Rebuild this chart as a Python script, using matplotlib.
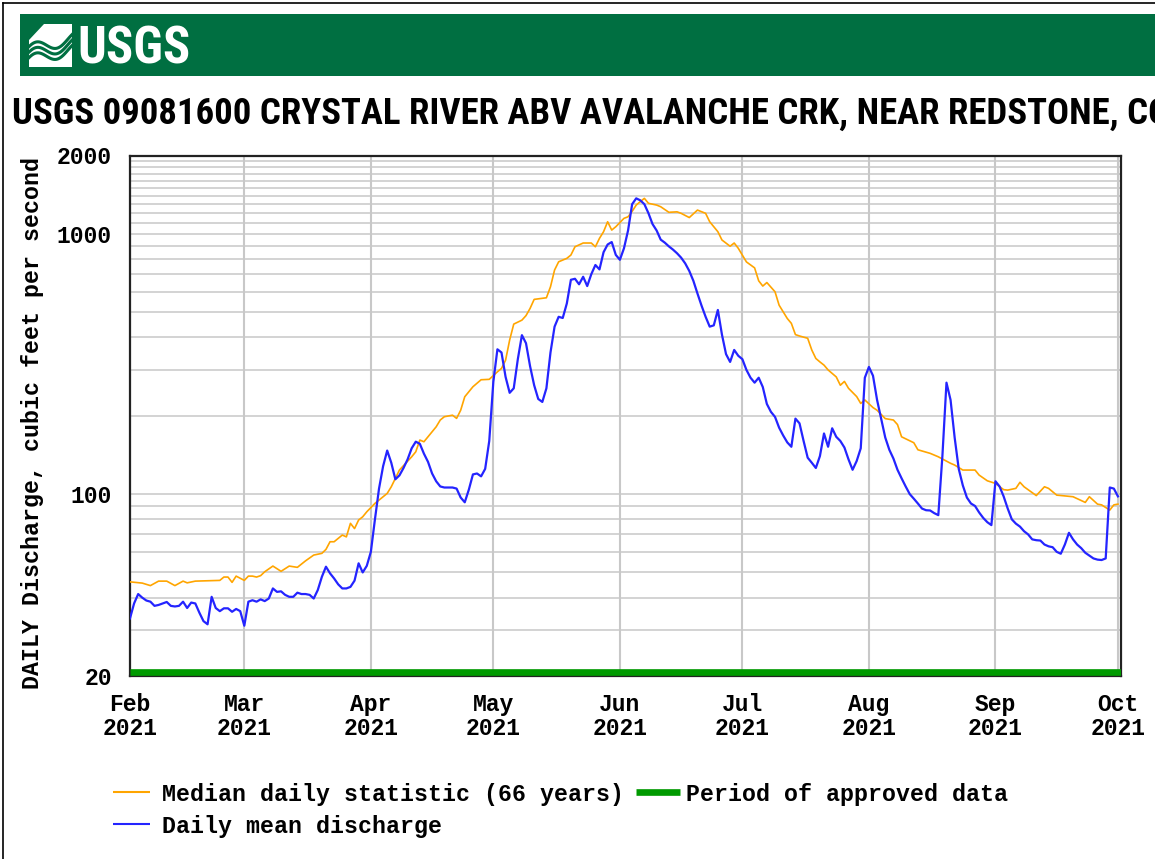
import matplotlib
matplotlib.use('Agg')
import matplotlib.pyplot as plt
import matplotlib.dates as mdates
from matplotlib.ticker import FixedLocator, NullFormatter, FixedFormatter
from matplotlib.lines import Line2D
from matplotlib.patches import Rectangle
from matplotlib import font_manager
import numpy as np
import pandas as pd

# ---------------- data ----------------
start_date = '2021-02-01'

# Daily mean discharge (cfs), one value per day from 2021-02-01
mean_cfs = [
    33.3, 38, 41.3, 40, 39, 38.6, 37.2, 37.5, 38, 38.5,
    37.2, 37, 37.2, 38.6, 36.5, 38.3, 38, 35, 32.5, 31.6,
    40.3, 36.5, 35.5, 36.4, 36.4, 35.3, 36.2, 35.5, 31.2, 38.6,
    39.1, 38.6, 39.4, 38.8, 39.7, 43.4, 42.1, 42.3, 41, 40.3,
    40.3, 41.8, 41.3, 41.3, 41, 39.7, 42.8, 48.1, 52.6, 49.6,
    47.4, 45, 43.4, 43.4, 44, 46.5, 54.2, 50, 53, 60,
    80, 105, 128, 147, 132, 114, 118, 126, 136, 150,
    159, 156, 143, 133, 120, 112, 107, 106, 106, 106,
    105, 97, 93, 104, 119, 120, 117, 125, 160, 270,
    360, 350, 282, 245, 255, 330, 408, 380, 310, 262,
    232, 226, 255, 350, 440, 480, 475, 540, 666, 672,
    640, 684, 630, 700, 759, 730, 850, 910, 930, 830,
    795, 880, 1030, 1300, 1369, 1345, 1300, 1200, 1090, 1030,
    950, 925, 895, 870, 842, 810, 770, 720, 660, 590,
    530, 480, 440, 445, 510, 410, 345, 322, 358, 340,
    330, 300, 280, 268, 280, 258, 222, 207, 198, 180,
    168, 158, 152, 195, 187, 160, 138, 132, 126, 140,
    171, 152, 179, 166, 160, 151, 136, 124, 134, 150,
    280, 308, 285, 230, 195, 165, 148, 137, 124, 115,
    107, 100, 96, 92, 88, 86.7, 86.5, 84.5, 83, 140,
    268, 230, 165, 125, 108, 97, 92, 90, 85, 81,
    78, 76, 112, 107, 98, 88, 80, 77, 75, 72,
    70, 67, 66.5, 66.3, 64, 63, 62.5, 60, 59, 64,
    71, 67, 64, 62, 59.5, 58, 56.6, 56, 55.8, 56.6,
    106, 105, 98,
]

# Median daily statistic (66 years): day offset from 2021-02-01 and cfs
median_day = [
    0, 3, 5, 7, 9, 11, 13, 14, 16, 22, 23, 24, 25, 26, 28, 29, 30, 31, 32, 33,
    35, 37, 39, 41, 43, 45, 47, 48, 49, 50, 52, 53, 54, 55, 56, 57, 58, 60, 62, 63,
    64, 65, 66, 69, 70, 71, 72, 75, 76, 77, 79, 80, 81, 82, 84, 86, 88, 90, 91, 92,
    93, 94, 96, 97, 98, 99, 102, 103, 104, 105, 107, 108, 109, 111, 113, 114, 115, 116, 117, 118,
    119, 121, 122, 123, 124, 125, 126, 127, 129, 130, 132, 134, 135, 137, 139, 141, 142, 144, 145, 147,
    148, 149, 151, 153, 154, 155, 156, 158, 159, 160, 161, 162, 163, 164, 166, 167, 168, 169, 170, 171,
    172, 173, 174, 175, 176, 178, 179, 180, 182, 183, 185, 187, 188, 189, 192, 193, 196, 198, 201, 202,
    204, 207, 208, 210, 212, 214, 215, 217, 218, 219, 222, 224, 225, 227, 231, 234, 235, 237, 238, 240,
    241, 242,
]
median_cfs = [
    46, 45.5, 44.5, 46.3, 46.3, 44.5, 46.3, 45.6, 46.3, 46.6, 48, 48, 45.8, 48.4, 46.6, 48.4, 48.4, 48, 48.6, 50.3,
    52.9, 50.5, 52.9, 52.3, 55.4, 58.3, 59.2, 61.3, 65.6, 65.6, 69.6, 68.5, 77.2, 73.7, 79.5, 81.8, 85.5, 92.1, 97.7, 100.6,
    106.7, 114.9, 123.7, 139.1, 145.4, 161.3, 158.9, 181.4, 192.6, 198.3, 201, 195.4, 210, 236.6, 258.5, 275, 276, 295, 304, 327,
    391, 450, 466, 485, 517, 560, 568, 626, 726, 781, 805, 829, 892, 922, 922, 892, 961, 1019, 1113, 1034,
    1065, 1147, 1163, 1220, 1290, 1330, 1369, 1310, 1290, 1271, 1210, 1215, 1199, 1155, 1234, 1199, 1113, 1019, 947, 896,
    922, 880, 780, 740, 660, 630, 650, 599, 532, 502, 473, 453, 410, 405, 397, 358, 332, 322, 313, 300,
    291, 282, 262, 271, 255, 237, 223, 230, 215, 210, 195, 192.6, 185, 166, 157.5, 148, 143.4, 139.1, 131.3, 129.3,
    123.7, 123.7, 118.3, 112.5, 109.9, 104, 103.6, 105.2, 111, 106.7, 98.7, 106.7, 105.2, 99.1, 97.7, 92.9, 97.7, 91.5, 90.9, 86.8,
    90.9, 91.5,
]

approved_start = '2021-02-01'
approved_end = '2021-10-02'

month_ticks = pd.date_range('2021-02-01', '2021-10-01', freq='MS')
y_major = [20, 100, 1000, 2000]
y_major_labels = ['20', '100', '1000', '2000']

title_text = 'USGS 09081600 CRYSTAL RIVER ABV AVALANCHE CRK, NEAR REDSTONE, CO'
ylabel_text = 'DAILY Discharge, cubic feet per second'
lbl_median = 'Median daily statistic (66 years)'
lbl_mean = 'Daily mean discharge'
lbl_approved = 'Period of approved data'
logo_text = 'USGS'

# ---------------- style ----------------
W, H = 1155, 859
C_MED = '#FFA500'
C_MEAN = '#2424FF'
C_APPR = '#009A00'
C_BANNER = '#006F41'
C_GRID = '#C8C8C8'

mono = ['Liberation Mono', 'DejaVu Sans Mono']
FS_TICK = 16.6
FS_TEXT = 16.75

# pick a condensed sans for the header texts if one is installed
ttf = font_manager.fontManager.ttflist
names = {f.name for f in ttf}
narrow_family, narrow_stretch = None, 'normal'
for cand in ['Liberation Sans Narrow', 'Arial Narrow', 'Roboto Condensed', 'Open Sans Condensed',
             'Nimbus Sans Narrow', 'Noto Sans Condensed', 'DejaVu Sans Condensed']:
    if cand in names:
        narrow_family = cand
        break
if narrow_family is None:
    for f in ttf:
        if f.name in ('DejaVu Sans', 'Noto Sans', 'Open Sans', 'Roboto') and str(f.stretch) in ('condensed', 'semi-condensed', '87.5', '75'):
            narrow_family, narrow_stretch = f.name, 'condensed'
            break
if narrow_family is None:
    narrow_family = 'Liberation Sans'
head_fam = [narrow_family, 'DejaVu Sans']


def fx(px):
    return px / W


def fy(py):
    return 1 - py / H


fig = plt.figure(figsize=(W / 100, H / 100), dpi=100)
fig.patch.set_facecolor('white')
renderer = fig.canvas.get_renderer()


def fit_size(text, target_px, weight='bold'):
    t = fig.text(0, 0, text, fontsize=30, fontweight=weight, family=head_fam, fontstretch=narrow_stretch)
    w = t.get_window_extent(renderer).width
    t.remove()
    return 30 * target_px / w


# outer border (left and top)
fig.add_artist(Line2D([fx(3), fx(3)], [0, fy(3)], transform=fig.transFigure, color='black', lw=1.2))
fig.add_artist(Line2D([fx(3), 1], [fy(3), fy(3)], transform=fig.transFigure, color='black', lw=1.2))

# banner
fig.add_artist(Rectangle((fx(20), fy(76)), 1 - fx(20), fy(13.5) - fy(76), transform=fig.transFigure,
                         facecolor=C_BANNER, edgecolor='none'))
# logo icon: white square with green waves
fig.add_artist(Rectangle((fx(29), fy(67)), fx(72) - fx(29), fy(24) - fy(67), transform=fig.transFigure,
                         facecolor='white', edgecolor='none'))
tt = np.linspace(0, 1, 60)
for off in [0, 5.5, 11]:
    xs = 29 + 43 * tt
    ys = 50 + off - 12 * tt - 6 * np.sin(2 * np.pi * tt + 0.6)
    fig.add_artist(Line2D(fx(xs), fy(ys), transform=fig.transFigure, color=C_BANNER, lw=2.2))
fig.add_artist(plt.Polygon([[fx(29), fy(24)], [fx(44), fy(24)], [fx(29), fy(40)]], closed=True,
                           transform=fig.transFigure, facecolor=C_BANNER, edgecolor='none'))
logo_size = min(fit_size(logo_text, 113), 40)
fig.text(fx(77), fy(64), logo_text, color='white', fontsize=logo_size, fontweight='bold',
         family=head_fam, fontstretch=narrow_stretch, ha='left', va='baseline')

# title (cut at the right edge, as in the source image)
title_size = min(fit_size(title_text.split(', CO')[0], 1097), 27)
fig.text(fx(12), fy(123.5), title_text, fontsize=title_size, fontweight='bold', family=head_fam,
         fontstretch=narrow_stretch, ha='left', va='baseline', color='black')

# ---------------- axes ----------------
ax = fig.add_axes([fx(130), fy(676), fx(1121) - fx(130), fy(155.5) - fy(676)])
ax.set_facecolor('white')

mean_dates = pd.date_range(start_date, periods=len(mean_cfs), freq='D')
median_dates = pd.Timestamp(start_date) + pd.to_timedelta(median_day, unit='D')

ax.plot(median_dates, median_cfs, color=C_MED, lw=1.2, zorder=3)
ax.plot(mean_dates, mean_cfs, color=C_MEAN, lw=1.6, zorder=4)
ax.plot([pd.Timestamp(approved_start), pd.Timestamp(approved_end)], [0.0085, 0.0085],
        transform=ax.get_xaxis_transform(), color=C_APPR, lw=4.8, solid_capstyle='butt', zorder=5)

ax.set_yscale('log')
ax.set_ylim(20, 2000)
ax.set_xlim(pd.Timestamp('2021-02-01'), pd.Timestamp('2021-10-01') + pd.Timedelta(hours=18))

minor_vals = list(range(30, 100, 10)) + list(range(200, 1000, 100)) + list(range(1100, 2000, 100))
ax.yaxis.set_major_locator(FixedLocator(y_major))
ax.yaxis.set_major_formatter(FixedFormatter(y_major_labels))
ax.yaxis.set_minor_locator(FixedLocator(minor_vals))
ax.yaxis.set_minor_formatter(NullFormatter())

ax.set_xticks(mdates.date2num(month_ticks))
ax.set_xticklabels([f'{d:%b}\n{d:%Y}' for d in month_ticks], linespacing=1.1)

ax.grid(which='both', axis='y', color=C_GRID, lw=1.1, zorder=0)
ax.grid(which='major', axis='x', color=C_GRID, lw=1.5, zorder=0)
ax.set_axisbelow(True)

ax.tick_params(which='both', length=0)
ax.tick_params(axis='y', pad=13)
ax.tick_params(axis='x', pad=12)
for lbl in ax.get_xticklabels() + ax.get_yticklabels():
    lbl.set_family(mono)
    lbl.set_fontweight('bold')
    lbl.set_fontsize(FS_TICK)

for s in ax.spines.values():
    s.set_linewidth(1.6)
    s.set_color('#222222')

fig.text(fx(33), fy(423), ylabel_text, rotation=90, ha='center', va='center',
         family=mono, fontweight='bold', fontsize=FS_TEXT)


# ---------------- legend (manual) ----------------
def legend_item(x0, x1, y, color, lw, label, tx):
    fig.add_artist(Line2D([fx(x0), fx(x1)], [fy(y), fy(y)], transform=fig.transFigure,
                          color=color, lw=lw, solid_capstyle='butt'))
    fig.text(fx(tx), fy(y), label, ha='left', va='center_baseline', family=mono,
             fontweight='bold', fontsize=FS_TEXT)


legend_item(113, 150, 792, C_MED, 1.5, lbl_median, 162)
legend_item(636, 680, 792, C_APPR, 4.8, lbl_approved, 686)
legend_item(113, 150, 824, C_MEAN, 1.5, lbl_mean, 162)

fig.savefig('out.png', dpi=100, facecolor='white')
